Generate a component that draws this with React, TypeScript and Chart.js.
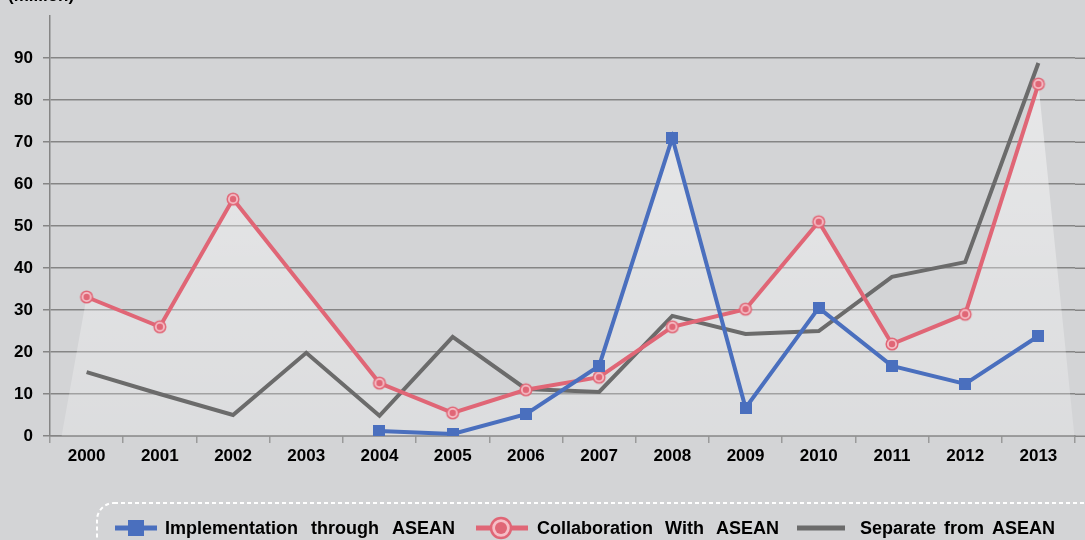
import React, { useEffect, useRef } from 'react';
import { Chart, registerables } from 'chart.js';

Chart.register(...registerables);

const years = ['2000', '2001', '2002', '2003', '2004', '2005', '2006', '2007', '2008', '2009', '2010', '2011', '2012', '2013'];
const implementation = [null, null, null, null, 1.2, 0.5, 5.2, 16.7, 71, 6.7, 30.5, 16.7, 12.4, 23.8];
const collaboration = [33.1, 26, 56.4, null, 12.6, 5.5, 11, 14, 26, 30.2, 51, 21.9, 29, 83.8];
const separate = [15.2, 10, 5, 19.8, 4.8, 23.6, 11.2, 10.5, 28.6, 24.3, 25, 37.9, 41.4, 88.8];
const seriesNames = ['Implementation through ASEAN', 'Collaboration With ASEAN', 'Separate from ASEAN'];
const unitLabel = '(million)';
const yMin = 0;
const yMax = 100;
const yStep = 10;

const BLUE = '#4a6fbe';
const RED = '#e06676';
const GRAY = '#6b6b6b';
const BG = '#d3d4d6';
const GRID = '#858585';
const FONT = '"Liberation Sans", Arial, sans-serif';

function makeSquare(size: number, color: string) {
  const c = document.createElement('canvas');
  c.width = size;
  c.height = size;
  const x = c.getContext('2d')!;
  x.fillStyle = color;
  x.fillRect(0, 0, size, size);
  return c;
}

function makeRing(r: number, inner: number, lw: number) {
  const s = Math.ceil(2 * r + lw + 2);
  const c = document.createElement('canvas');
  c.width = s;
  c.height = s;
  const x = c.getContext('2d')!;
  const cx = s / 2;
  x.beginPath();
  x.arc(cx, cx, r, 0, Math.PI * 2);
  x.fillStyle = 'rgba(246,190,198,0.95)';
  x.fill();
  x.lineWidth = lw;
  x.strokeStyle = RED;
  x.stroke();
  x.beginPath();
  x.arc(cx, cx, inner, 0, Math.PI * 2);
  x.fillStyle = RED;
  x.fill();
  return c;
}

function drawJustified(ctx: CanvasRenderingContext2D, text: string, x: number, y: number, width: number) {
  const words = text.split(' ');
  const ws = words.map((w) => ctx.measureText(w).width);
  const total = ws.reduce((a, b) => a + b, 0);
  const gap = words.length > 1 ? (width - total) / (words.length - 1) : 0;
  let cx = x;
  words.forEach((w, i) => {
    ctx.fillText(w, cx, y);
    cx += ws[i] + gap;
  });
}

const bgPlugin = {
  id: 'bg',
  beforeDraw(chart: any) {
    const { ctx, width, height } = chart;
    ctx.save();
    ctx.fillStyle = BG;
    ctx.fillRect(0, 0, width, height);
    ctx.restore();
  },
};

const glowPlugin = {
  id: 'glow',
  beforeDatasetsDraw(chart: any) {
    const { ctx, chartArea, scales } = chart;
    const base = scales.y.getPixelForValue(0);
    ctx.save();
    ctx.beginPath();
    ctx.rect(chartArea.left, chartArea.top, chartArea.right - chartArea.left + 10, chartArea.bottom - chartArea.top);
    ctx.clip();
    ctx.beginPath();
    [0, 1].forEach((idx) => {
      const meta = chart.getDatasetMeta(idx);
      const vals = chart.data.datasets[idx].data;
      const pts = meta.data.filter((_p: any, i: number) => vals[i] != null);
      if (!pts.length) return;
      ctx.moveTo(pts[0].x - 25, base);
      pts.forEach((p: any) => ctx.lineTo(p.x, p.y));
      ctx.lineTo(pts[pts.length - 1].x + 36, base);
      ctx.closePath();
    });
    const g = ctx.createLinearGradient(0, chartArea.top, 0, base);
    g.addColorStop(0, 'rgba(255,255,255,0.5)');
    g.addColorStop(1, 'rgba(255,255,255,0.2)');
    ctx.fillStyle = g;
    ctx.fill();
    ctx.restore();
  },
};

const decoPlugin = {
  id: 'deco',
  afterDraw(chart: any) {
    const { ctx, chartArea, scales, width } = chart;
    ctx.save();
    ctx.strokeStyle = GRID;
    ctx.lineWidth = 1.5;
    scales.y.ticks.forEach((t: any) => {
      if (t.value >= yMax) return;
      const py = Math.round(scales.y.getPixelForValue(t.value)) + 0.25;
      ctx.beginPath();
      ctx.moveTo(chartArea.right, py);
      ctx.lineTo(width, py);
      ctx.stroke();
    });

    ctx.fillStyle = '#000';
    ctx.font = `bold 17px ${FONT}`;
    ctx.textBaseline = 'alphabetic';
    ctx.textAlign = 'left';
    ctx.fillText(unitLabel, 8, 1);

    ctx.setLineDash([4, 3]);
    ctx.strokeStyle = '#ffffff';
    ctx.lineWidth = 2;
    ctx.beginPath();
    (ctx as any).roundRect(97, 503, 1100, 120, 17);
    ctx.stroke();
    ctx.setLineDash([]);

    const ly = 528;
    const ds = chart.data.datasets;
    ctx.strokeStyle = ds[0].borderColor;
    ctx.lineWidth = 5;
    ctx.beginPath();
    ctx.moveTo(115, ly);
    ctx.lineTo(157, ly);
    ctx.stroke();
    ctx.fillStyle = ds[0].borderColor;
    ctx.fillRect(128, ly - 8, 16, 16);

    ctx.strokeStyle = ds[1].borderColor;
    ctx.beginPath();
    ctx.moveTo(476, ly);
    ctx.lineTo(528, ly);
    ctx.stroke();
    ctx.beginPath();
    ctx.arc(501, ly, 10, 0, Math.PI * 2);
    ctx.fillStyle = 'rgba(246,190,198,1)';
    ctx.fill();
    ctx.lineWidth = 2.5;
    ctx.strokeStyle = RED;
    ctx.stroke();
    ctx.beginPath();
    ctx.arc(501, ly, 6, 0, Math.PI * 2);
    ctx.fillStyle = RED;
    ctx.fill();

    ctx.strokeStyle = ds[2].borderColor;
    ctx.lineWidth = 5;
    ctx.beginPath();
    ctx.moveTo(797, ly);
    ctx.lineTo(845, ly);
    ctx.stroke();

    ctx.fillStyle = '#000';
    ctx.font = `bold 18px ${FONT}`;
    ctx.textBaseline = 'alphabetic';
    drawJustified(ctx, ds[0].label, 165, 534, 290);
    drawJustified(ctx, ds[1].label, 537, 534, 242);
    drawJustified(ctx, ds[2].label, 860, 534, 195);
    ctx.restore();
  },
};

export default function App() {
  const ref = useRef<HTMLCanvasElement>(null);
  useEffect(() => {
    const sq = makeSquare(12, BLUE);
    const ring = makeRing(5.8, 3.2, 1.5);
    const chart = new Chart(ref.current!, {
      type: 'line',
      data: {
        labels: years,
        datasets: [
          {
            label: seriesNames[0],
            data: implementation,
            borderColor: BLUE,
            backgroundColor: BLUE,
            borderWidth: 4,
            pointStyle: sq as any,
            pointRadius: 6,
            tension: 0,
            fill: false,
          },
          {
            label: seriesNames[1],
            data: collaboration,
            borderColor: RED,
            backgroundColor: RED,
            borderWidth: 4,
            pointStyle: ring as any,
            pointRadius: 6,
            spanGaps: true,
            tension: 0,
            fill: false,
          },
          {
            label: seriesNames[2],
            data: separate,
            borderColor: GRAY,
            backgroundColor: GRAY,
            borderWidth: 4,
            pointRadius: 0,
            tension: 0,
            fill: false,
          },
        ],
      },
      options: {
        responsive: false,
        animation: false,
        layout: { padding: { top: 16, right: 7, bottom: 0, left: 0 } },
        plugins: {
          legend: { display: false },
          tooltip: { enabled: false },
        },
        scales: {
          x: {
            offset: true,
            afterFit: (s: any) => {
              s.height = 104;
              s.paddingLeft = 0;
              s.paddingRight = 0;
            },
            grid: {
              offset: true,
              drawOnChartArea: false,
              drawTicks: true,
              tickLength: 7,
              color: '#9a9a9a',
              lineWidth: 1.5,
            },
            border: { color: GRID, width: 1.5 },
            ticks: {
              color: '#000',
              font: { family: FONT, size: 17, weight: 'bold' },
              padding: 3,
              maxRotation: 0,
            },
          },
          y: {
            min: yMin,
            max: yMax,
            afterFit: (s: any) => {
              s.width = 50;
              s.paddingTop = 0;
              s.paddingBottom = 0;
            },
            grid: {
              color: (c: any) => (c.tick && c.tick.value >= yMax ? 'rgba(0,0,0,0)' : GRID),
              lineWidth: 1.5,
              tickLength: 7,
            },
            border: { color: GRID, width: 1.5 },
            ticks: {
              stepSize: yStep,
              color: '#000',
              font: { family: FONT, size: 17, weight: 'bold' },
              padding: 10,
              callback: (v: any) => (v >= yMax ? '' : String(v)),
            },
          },
        },
      },
      plugins: [bgPlugin, glowPlugin, decoPlugin],
    });
    return () => chart.destroy();
  }, []);
  return (
    <div style={{ position: 'fixed', left: 0, top: 0, width: 1085, height: 540, background: BG }}>
      <canvas ref={ref} width={1085} height={540} />
    </div>
  );
}
